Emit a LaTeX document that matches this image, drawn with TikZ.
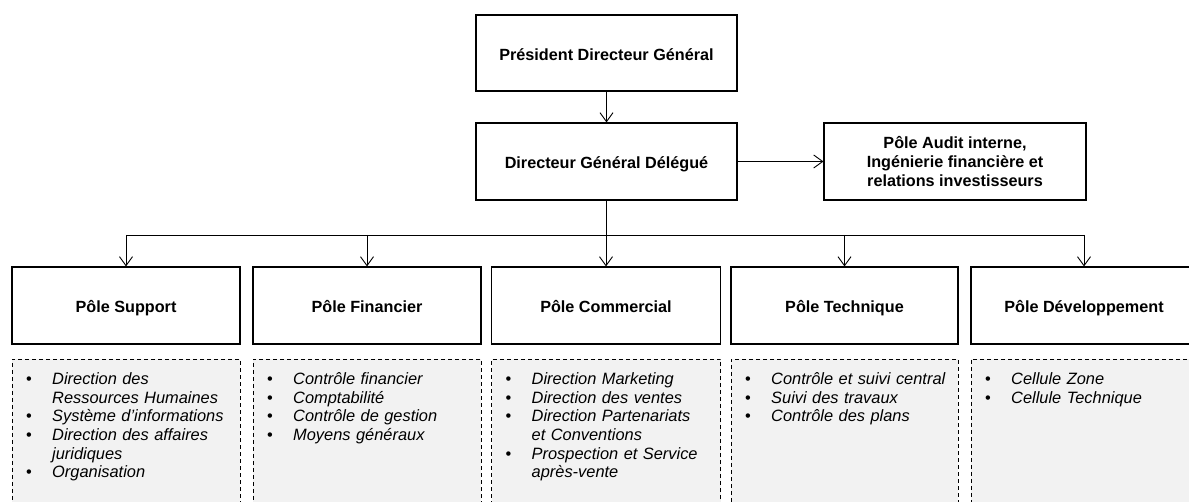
\documentclass[tikz,border=0pt]{standalone}
\usepackage{fontspec}
\setmainfont{Liberation Sans}
\usetikzlibrary{arrows.meta}
\definecolor{lightbg}{HTML}{F2F2F2}
\newcommand\bitem[1]{\par\noindent\makebox[26pt][l]{\textbullet}\textit{#1}}
\newcommand\bcont[1]{\par\noindent\hspace*{26pt}\textit{#1}}
\begin{document}
\begin{tikzpicture}[x=1pt,y=-1pt,
  box/.style={draw, line width=1.1pt, rectangle, inner sep=0pt, align=center,
    font=\fontsize{16.2}{19}\selectfont\bfseries, minimum height=77pt},
  one/.style={text height=15pt, text depth=0pt},
  listbox/.style={draw, dash pattern=on 4pt off 3pt, line width=0.9pt, fill=lightbg,
    rectangle, inner sep=0pt, minimum height=170pt},
  listtext/.style={anchor=north west, inner sep=0pt, text width=222pt,
    font=\fontsize{16.4}{18.6}\selectfont},
  conn/.style={line width=0.9pt},
  trunk/.style={line width=1.6pt},
  arr/.style={conn, -{Straight Barb[length=9pt,width=13pt]}}
]
\useasboundingbox (0,0) rectangle (1189,502);
\clip (0,0) rectangle (1189,502);

\node[box, one, minimum width=261pt, minimum height=76pt] (pdg) at (606.5,53) {Président Directeur Général};
\node[box, one, minimum width=261pt] (dgd) at (606.5,161.5) {Directeur Général Délégué};
\node[box, minimum width=262pt, text depth=0pt] (audit) at (955,161.5) {Pôle Audit interne,\\Ingénierie financière et\\relations investisseurs};

\draw[arr] (pdg) -- (dgd);
\draw[arr] (dgd) -- (audit);

\node[box, one, minimum width=228pt] (sup) at (126,305.5) {Pôle Support};
\node[box, one, minimum width=228pt] (fin) at (367,305.5) {Pôle Financier};
\node[box, one, minimum width=229pt] (com) at (606,305.5) {Pôle Commercial};
\node[box, one, minimum width=227pt] (tec) at (844.5,305.5) {Pôle Technique};
\node[box, one, minimum width=226pt] (dev) at (1084,305.5) {Pôle Développement};

\coordinate (bar) at (606.5,235);
\draw[trunk] (dgd.south) -- (bar);
\draw[conn] (bar -| sup.north) -- (bar -| dev.north);
\foreach \n in {sup,fin,com,tec,dev}
  \draw[arr] (bar -| \n.north) -- (\n.north);

\node[listbox, minimum width=228pt] (lsup) at (126,444) {};
\node[listbox, minimum width=228pt] (lfin) at (367,444) {};
\node[listbox, minimum width=229pt] (lcom) at (606,444) {};
\node[listbox, minimum width=227pt] (ltec) at (844.5,444) {};
\node[listbox, minimum width=226pt] (ldev) at (1084,444) {};

\node[listtext] (tsup) at (26,366) {%
  \bitem{Direction des}
  \bcont{Ressources Humaines}
  \bitem{Système d’informations}
  \bitem{Direction des affaires}
  \bcont{juridiques}
  \bitem{Organisation}};
\node[listtext] (tfin) at (267,366) {%
  \bitem{Contrôle financier}
  \bitem{Comptabilité}
  \bitem{Contrôle de gestion}
  \bitem{Moyens généraux}};
\node[listtext] (tcom) at (505.5,366) {%
  \bitem{Direction Marketing}
  \bitem{Direction des ventes}
  \bitem{Direction Partenariats}
  \bcont{et Conventions}
  \bitem{Prospection et Service}
  \bcont{après-vente}};
\node[listtext] (ttec) at (745,366) {%
  \bitem{Contrôle et suivi central}
  \bitem{Suivi des travaux}
  \bitem{Contrôle des plans}};
\node[listtext] (tdev) at (985,366) {%
  \bitem{Cellule Zone}
  \bitem{Cellule Technique}};
\end{tikzpicture}
\end{document}
